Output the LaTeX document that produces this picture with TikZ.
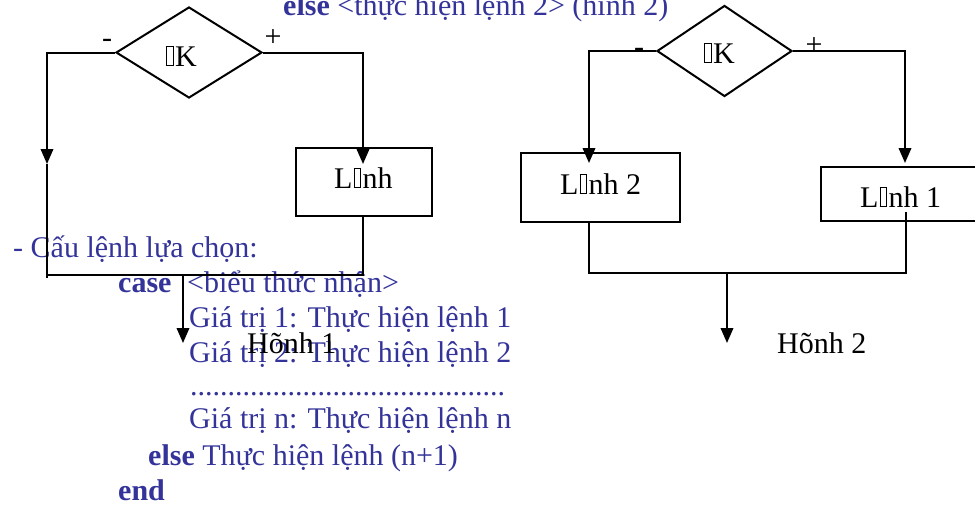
\documentclass[tikz,border=0pt]{standalone}
\usepackage{fontspec}
\setmainfont{Liberation Serif}
\usetikzlibrary{shapes.geometric,arrows.meta}
\definecolor{blu}{RGB}{51,51,153}
\newcommand\nb{\kern1.2pt\vbox{\hrule height .9pt\hbox{\vrule width .9pt height 18pt\kern5.4pt\vrule width .9pt}\hrule height .9pt}\kern1.6pt}
\tikzset{
  ln/.style={line width=2pt,black},
  arr/.style={ln,-{Triangle[width=12.5pt,length=15pt]}},
  dia/.style={diamond,draw,line width=2pt,inner sep=0pt,minimum width=#1,minimum height=91pt},
  bx/.style={rectangle,draw,line width=2pt,inner sep=0pt},
  lbl/.style={inner sep=0pt,anchor=base west,font=\fontsize{30}{35}\selectfont},
  sg/.style={inner sep=0pt,anchor=base,font=\fontsize{30}{35}\selectfont},
  bt/.style={lbl,text=blu}
}
\begin{document}
\begin{tikzpicture}[x=1pt,y=-1pt]
\useasboundingbox (0,0) rectangle (975,504);
% blue text
\node[bt] (t1) at (283,15) {\textbf{else} <thực hiện lệnh 2> (hình 2)};
\node[bt] (t2) at (13,257) {- Cấu lệnh lựa chọn:};
\node[bt] (t3) at (118,292) {\textbf{case}};
\node[bt] (t3b) at (187,292) {<biểu thức nhận>};
\node[bt] (t4) at (189,327) {Giá trị 1: Thực hiện lệnh 1};
\node[bt] (t5) at (189,362) {Giá trị 2: Thực hiện lệnh 2};
\node[bt] (t6) at (190,395) {..........................................};
\node[bt] (t7) at (189,428) {Giá trị n: Thực hiện lệnh n};
\node[bt] (t8) at (148,465) {\textbf{else} Thực hiện lệnh (n+1)};
\node[bt] (t9) at (118,500) {\textbf{end}};
% left diagram
\node[dia=146pt] (d1) at (189,52.5) {};
\node[lbl] (k1) at (165,66) {\nb K};
\node[sg] (m1) at (107,47) {-};
\node[sg] (p1) at (273,46) {+};
\node[bx,minimum width=136pt,minimum height=68pt] (b1) at (364,182) {};
\node[lbl] (l1) at (334,188) {L\nb nh};
\coordinate (la1) at (47,164);
\coordinate (lb1) at (47,278);
\coordinate (ra1) at (363,164);
\coordinate (rs1) at (363,216);
\coordinate (rj1) at (363,275);
\coordinate (lj1) at (47,275);
\coordinate (j1) at (183,275);
\coordinate (e1) at (183,343);
\draw[arr] (d1.west) -| (la1);
\draw[ln] (la1) -- (lb1);
\draw[arr] (d1.east) -| (ra1);
\draw[ln] (rs1) -- (rj1) -- (lj1);
\draw[arr] (j1) -- (e1);
\node[lbl] (h1) at (247,353) {Hõnh 1};
% right diagram
\node[dia=135pt] (d2) at (724.5,51) {};
\node[lbl] (k2) at (703,63) {\nb K};
\node[sg] (m2) at (639,56) {-};
\node[sg] (p2) at (814,54) {+};
\node[bx,minimum width=159pt,minimum height=69pt] (b2) at (600.5,187.5) {};
\node[lbl] (l2) at (560,194) {L\nb nh 2};
\node[bx,minimum width=160pt,minimum height=54pt] (b3) at (901,194) {};
\node[lbl] (l3) at (860,207) {L\nb nh 1};
\coordinate (la2) at (589,163);
\coordinate (ra2) at (905,163);
\coordinate (s2) at (589,222);
\coordinate (c2) at (589,273);
\coordinate (c3) at (906,273);
\coordinate (s3) at (906,212);
\coordinate (j2) at (727,273);
\coordinate (e2) at (727,343);
\draw[arr] (d2.west) -| (la2);
\draw[arr] (d2.east) -| (ra2);
\draw[ln] (s2) -- (c2) -- (c3) -- (s3);
\draw[arr] (j2) -- (e2);
\node[lbl] (h2) at (777,353) {Hõnh 2};
\end{tikzpicture}
\end{document}
